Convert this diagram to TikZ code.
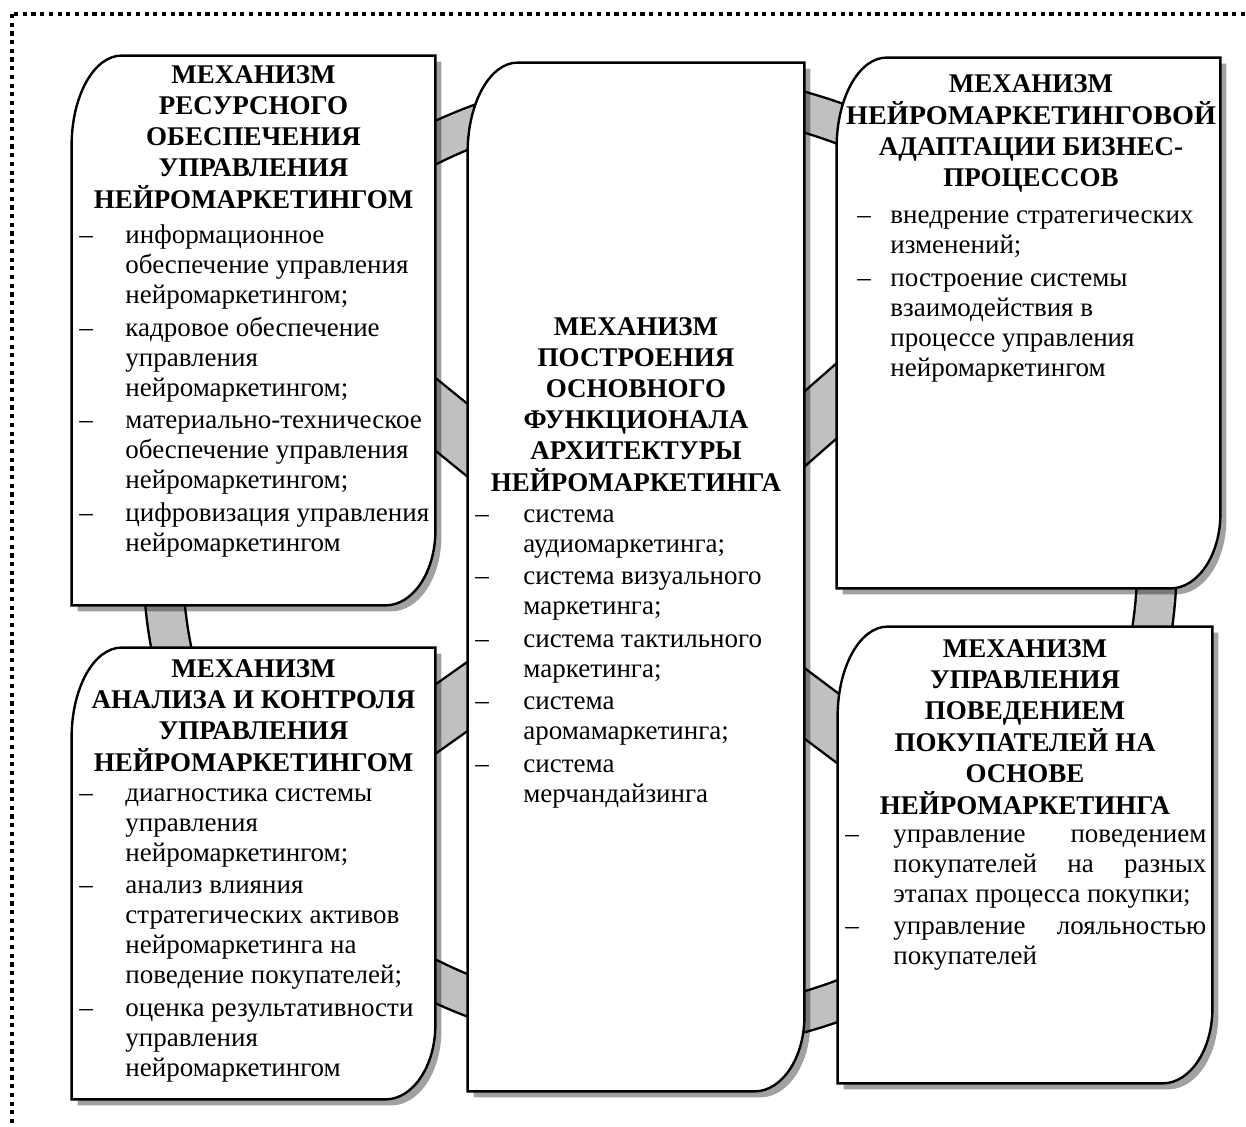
\documentclass[tikz,border=0pt]{standalone}
\usepackage{fontspec}
\setmainfont{Liberation Serif}
\usetikzlibrary{calc,fit,positioning}

\definecolor{bandgray}{HTML}{C0C0C0}

% box with round top-left and bottom-right corners
\newcommand{\mechpath}[1]{($(#1.north west)+(0,90)$) arc[start angle=180, end angle=270, x radius=50, y radius=90] -- (#1.north east) -- ($(#1.south east)+(0,-75)$) arc[start angle=0, end angle=90, x radius=50, y radius=75] -- (#1.south west) -- cycle}

\begin{document}
\begin{tikzpicture}[%
			x=0.5pt, y=-0.5pt,
			frame/.style={line width=2pt, dash pattern=on 2.1pt off 2.25pt},
			ring/.style={double=bandgray, double distance=18.5pt, line width=1.2pt},
			spoke/.style={double=bandgray, double distance=27pt, line width=1.2pt},
			mechbox/.style={inner sep=0pt, draw=none},
			mechhead/.style={anchor=north, inner sep=0pt, font=\bfseries\fontsize{13.5}{15.5}\selectfont},
			mechbody/.style={anchor=north west, inner sep=0pt, font=\fontsize{13.5}{15}\selectfont}
			]
			\path[use as bounding box, clip] (0,0) rectangle (1246,1127);
			\draw[frame] (12,14) rectangle (1400,1300);

			% boxes
			\node[mechbox, fit={(72,56) (435,605)}] (tl) {};
			\node[mechbox, fit={(468,63) (804,1091)}] (c) {};
			\node[mechbox, fit={(837,58) (1220,588)}] (tr) {};
			\node[mechbox, fit={(72,648) (435,1099)}] (bl) {};
			\node[mechbox, fit={(838,627) (1212,1083)}] (br) {};

			% ring and spokes behind the boxes
			\draw[ring] (660,562) ellipse [x radius=497, y radius=470];
			\coordinate (tlhub) at (334,332);
			\coordinate (blhub) at (334,791);
			\coordinate (trhub) at (940,310);
			\coordinate (brhub) at (940,805);
			\foreach \h in {tlhub,blhub,trhub,brhub}
				\draw[spoke] (c.center) -- (\h);

			\foreach \b in {tl,c,tr,bl,br}{
				\fill[black, opacity=.37, transform canvas={shift={(3pt,-3pt)}}] \mechpath{\b};
				\filldraw[fill=white, line width=1.2pt] \mechpath{\b};
			}

			% top left
			\node[mechhead] (tlhead) at (253.5,61.6) {\begin{tabular}{@{}c@{}}
				МЕХАНИЗМ\\ РЕСУРСНОГО\\ ОБЕСПЕЧЕНИЯ\\ УПРАВЛЕНИЯ\\ НЕЙРОМАРКЕТИНГОМ
				\end{tabular}};
			\node[mechbody] (tlbody) at (79,222.3) {\begin{tabular}{@{}p{23pt}@{}l@{}}
				– & информационное\\
				  & обеспечение управления\\
				  & нейромаркетингом;\\[1.25pt]
				– & кадровое обеспечение\\
				  & управления\\
				  & нейромаркетингом;\\[1.25pt]
				– & материально-техническое\\
				  & обеспечение управления\\
				  & нейромаркетингом;\\[1.25pt]
				– & цифровизация управления\\
				  & нейромаркетингом
				\end{tabular}};

			% centre
			\node[mechhead] (chead) at (636,313.3) {\begin{tabular}{@{}c@{}}
				МЕХАНИЗМ\\ ПОСТРОЕНИЯ\\ ОСНОВНОГО\\ ФУНКЦИОНАЛА\\ АРХИТЕКТУРЫ\\ НЕЙРОМАРКЕТИНГА
				\end{tabular}};
			\node[mechbody] (cbody) at (475,500.7) {\begin{tabular}{@{}p{24pt}@{}l@{}}
				– & система\\
				  & аудиомаркетинга;\\[1.25pt]
				– & система визуального\\
				  & маркетинга;\\[1.25pt]
				– & система тактильного\\
				  & маркетинга;\\[1.25pt]
				– & система\\
				  & аромамаркетинга;\\[1.25pt]
				– & система\\
				  & мерчандайзинга
				\end{tabular}};

			% top right
			\node[mechhead] (trhead) at (1031,70) {\begin{tabular}{@{}c@{}}
				МЕХАНИЗМ\\ \scalebox{1.045}[1]{НЕЙРОМАРКЕТИНГОВОЙ}\\ АДАПТАЦИИ БИЗНЕС-\\ ПРОЦЕССОВ
				\end{tabular}};
			\node[mechbody] (trbody) at (857,202.3) {\begin{tabular}{@{}p{16.5pt}@{}l@{}}
				– & внедрение стратегических\\
				  & изменений;\\[1.25pt]
				– & построение системы\\
				  & взаимодействия в\\
				  & процессе управления\\
				  & нейромаркетингом
				\end{tabular}};

			% bottom left
			\node[mechhead] (blhead) at (253.5,655) {\begin{tabular}{@{}c@{}}
				МЕХАНИЗМ\\ АНАЛИЗА И КОНТРОЛЯ\\ УПРАВЛЕНИЯ\\ НЕЙРОМАРКЕТИНГОМ
				\end{tabular}};
			\node[mechbody] (blbody) at (79,780) {\begin{tabular}{@{}p{23pt}@{}l@{}}
				– & диагностика системы\\
				  & управления\\
				  & нейромаркетингом;\\[1.25pt]
				– & анализ влияния\\
				  & стратегических активов\\
				  & нейромаркетинга на\\
				  & поведение покупателей;\\[1.25pt]
				– & оценка результативности\\
				  & управления\\
				  & нейромаркетингом
				\end{tabular}};

			% bottom right
			\node[mechhead] (brhead) at (1025,635) {\begin{tabular}{@{}c@{}}
				МЕХАНИЗМ\\ УПРАВЛЕНИЯ\\ ПОВЕДЕНИЕМ\\ ПОКУПАТЕЛЕЙ НА\\ ОСНОВЕ\\ НЕЙРОМАРКЕТИНГА
				\end{tabular}};
			\node[mechbody] (brbody) at (845,820.7) {\begin{tabular}{@{}p{24pt}@{}p{156.5pt}@{}}
				– & управление \hfill поведением\\
				  & покупателей \hfill на \hfill разных\\
				  & этапах процесса покупки;\\[1.25pt]
				– & управление \hfill лояльностью\\
				  & покупателей
				\end{tabular}};
			\end{tikzpicture}
\end{document}
